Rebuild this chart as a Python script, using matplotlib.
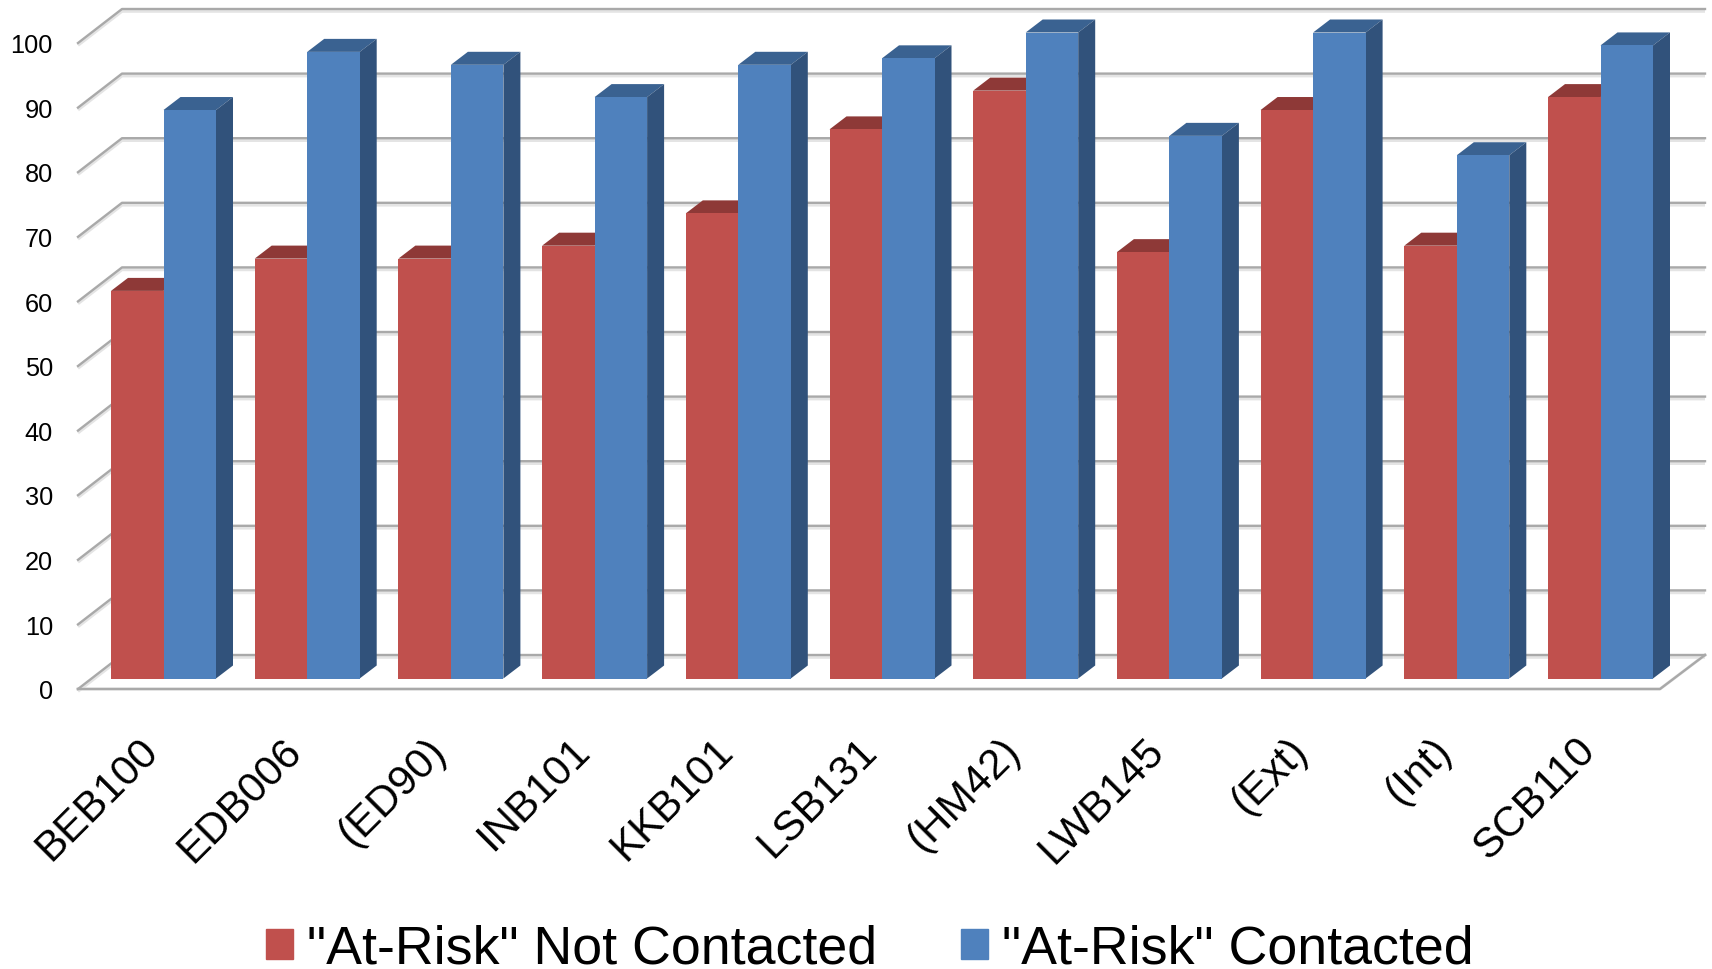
import matplotlib
matplotlib.use('Agg')
import matplotlib.pyplot as plt
from matplotlib.patches import Patch

plt.rcParams['font.family'] = ['Liberation Sans', 'DejaVu Sans']

categories = ['BEB100', 'EDB006', '(ED90)', 'INB101', 'KKB101', 'LSB131',
              '(HM42)', 'LWB145', '(Ext)', '(Int)', 'SCB110']
not_contacted = [60, 65, 65, 67, 72, 85, 91, 66, 88, 67, 90]
contacted = [88, 97, 95, 90, 95, 96, 100, 84, 100, 81, 98]
yticks = [0, 10, 20, 30, 40, 50, 60, 70, 80, 90, 100]

W, H = 1712, 970
# pixel scale of the picture: one category = 143.7 px, one unit = 6.46 px
cat_px = 143.7
val_px = 6.46
x0_px = 163.5
y0_px = 679.5


def px_x(p):
    return (p - x0_px) / cat_px


def px_y(p):
    return (y0_px - p) / val_px


fig = plt.figure(figsize=(W / 100, H / 100), dpi=100, facecolor='white')
ax = fig.add_axes([0, 0, 1, 1])
ax.set_xlim(px_x(0), px_x(W))
ax.set_ylim(px_y(H), px_y(0))
ax.axis('off')

bar_w = 52.5 / cat_px
dx = 17 / cat_px
dy = 13 / val_px

# fake 3d box: walls and floor
front_off = px_y(690)
wall_dy = 34 / val_px
left_front = px_x(78)
left_back = px_x(122)
right_back = px_x(1705)
right_front = px_x(1660)
grid_c = '#a9a9a9'
for v in yticks:
    ys = [v + front_off, v + front_off + wall_dy, v + front_off + wall_dy]
    ax.plot([left_front, left_back, right_back], [y - 0.35 for y in ys], color='#e4e4e4', lw=2.2, zorder=1,
            solid_capstyle='butt')
    ax.plot([left_front, left_back, right_back], ys, color=grid_c, lw=1.7, zorder=2)
    ax.text(px_x(53), v + front_off - 0.35, str(v), ha='right', va='center', fontsize=18.3, color='black')
ax.plot([left_front, right_front, right_back],
        [front_off, front_off, front_off + wall_dy], color='#e4e4e4', lw=2.2, zorder=1)
ax.plot([left_front, right_front, right_back],
        [front_off, front_off, front_off + wall_dy], color=grid_c, lw=1.7, zorder=2)

red, red_top = '#C0504D', '#8E3937'
blue, blue_top, blue_side = '#4F81BD', '#3A6291', '#31527B'

for i, (a, b) in enumerate(zip(not_contacted, contacted)):
    l = i - bar_w
    ax.fill([l, l + dx, l + bar_w + dx, l + bar_w], [a, a + dy, a + dy, a], color=red_top, lw=0, zorder=3)
    ax.fill([i, i + dx, i + bar_w + dx, i + bar_w], [b, b + dy, b + dy, b], color=blue_top, lw=0, zorder=5)
    r = i + bar_w
    ax.fill([r, r + dx, r + dx, r], [0, dy, b + dy, b], color=blue_side, lw=0, zorder=5)

xs = list(range(len(categories)))
ax.bar([x - bar_w for x in xs], not_contacted, width=bar_w, align='edge', color=red, zorder=4, linewidth=0)
ax.bar(xs, contacted, width=bar_w, align='edge', color=blue, zorder=6, linewidth=0)

for i, c in enumerate(categories):
    ax.text(i + px_x(152), px_y(745), c, rotation=45, rotation_mode='anchor',
            ha='right', va='center', fontsize=30.3, color='black')

handles = [Patch(color=red, label='"At-Risk" Not Contacted'),
           Patch(color=blue, label='"At-Risk" Contacted')]
fig.legend(handles=handles, loc='center', bbox_to_anchor=(870 / W, 1 - 950 / H), ncol=2, frameon=False,
           fontsize=38.7, handlelength=0.5, handleheight=0.5, handletextpad=0.26,
           columnspacing=1.56, borderpad=0, borderaxespad=0)

fig.savefig('out.png', dpi=100, facecolor='white')
